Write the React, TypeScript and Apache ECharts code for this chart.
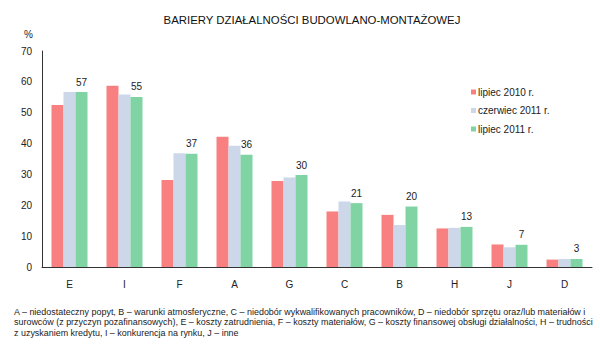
import React, { useEffect, useRef } from "react";
import * as echarts from "echarts";

const categories = ["E", "I", "F", "A", "G", "C", "B", "H", "J", "D"];
const seriesNames = ["lipiec 2010 r.", "czerwiec 2011 r.", "lipiec 2011 r."];
const jul2010 = [52.5, 58.7, 28.2, 42.2, 27.9, 18.0, 16.9, 12.5, 7.3, 2.4];
const jun2011 = [56.7, 55.9, 36.9, 39.3, 29.0, 21.2, 13.6, 12.7, 6.4, 2.6];
const jul2011 = [56.7, 55.1, 36.7, 36.4, 29.8, 20.7, 19.6, 13.0, 7.2, 2.6];
const colors = ["#F98080", "#CCD8EA", "#80D4A3"];
const footnoteLines = [
  "A – niedostateczny popyt, B – warunki atmosferyczne, C – niedobór wykwalifikowanych pracowników, D – niedobór sprzętu oraz/lub materiałów i",
  "surowców (z przyczyn pozafinansowych), E – koszty zatrudnienia, F – koszty materiałów, G – koszty finansowej obsługi działalności, H – trudności",
  "z uzyskaniem kredytu, I – konkurencja na rynku, J – inne",
];

export default function App() {
  const ref = useRef<HTMLDivElement>(null);
  useEffect(() => {
    if (!ref.current) return;
    const chart = echarts.init(ref.current, undefined, { renderer: "svg" });
    const font = "Arial, 'Liberation Sans', sans-serif";
    const data = [jul2010, jun2011, jul2011];
    chart.setOption({
      animation: false,
      textStyle: { fontFamily: font },
      title: {
        text: "BARIERY DZIAŁALNOŚCI BUDOWLANO-MONTAŻOWEJ",
        left: 307,
        textAlign: "center",
        top: 9,
        textStyle: { fontSize: 11.4, fontWeight: "normal", color: "#111", fontFamily: font },
      },
      legend: {
        orient: "vertical",
        left: 466,
        top: 82,
        itemWidth: 5,
        itemHeight: 5,
        itemGap: 8.5,
        icon: "rect",
        data: seriesNames,
        textStyle: { fontSize: 10, color: "#222", fontFamily: font, padding: [0, 0, 0, -3] },
      },
      grid: { left: 42, right: 8, top: 51, bottom: 84, containLabel: false },
      xAxis: {
        type: "category",
        data: categories,
        axisLine: { lineStyle: { color: "#333", width: 1 } },
        axisTick: { show: false },
        axisLabel: { fontSize: 10, color: "#222", margin: 12, fontFamily: font },
      },
      yAxis: {
        type: "value",
        min: 0,
        max: 70,
        interval: 10,
        name: "%",
        nameLocation: "end",
        nameGap: 12,
        nameTextStyle: { fontSize: 10, color: "#222", align: "right", padding: [0, 9, 0, 0], fontFamily: font },
        axisLine: { show: true, lineStyle: { color: "#333", width: 1 } },
        axisTick: { show: false },
        splitLine: { show: false },
        axisLabel: { fontSize: 10, color: "#222", margin: 10, fontFamily: font },
      },
      series: seriesNames.map((name, i) => ({
        name,
        type: "bar",
        data: data[i],
        barWidth: 12,
        barGap: "0%",
        itemStyle: { color: colors[i] },
        label:
          i === 2
            ? {
                show: true,
                position: "top",
                distance: 5,
                fontSize: 10,
                color: "#222",
                fontFamily: font,
                formatter: (p: any) => String(Math.round(p.value)),
              }
            : { show: false },
      })),
      graphic: footnoteLines.map((t, i) => ({
        type: "text",
        left: 14,
        top: 307 + i * 10.5,
        style: { text: t, fontSize: 8.95, fill: "#222", fontFamily: font },
      })),
    });
    return () => chart.dispose();
  }, []);
  return <div ref={ref} style={{ width: 600, height: 351, position: "absolute", left: 0, top: 0 }} />;
}
